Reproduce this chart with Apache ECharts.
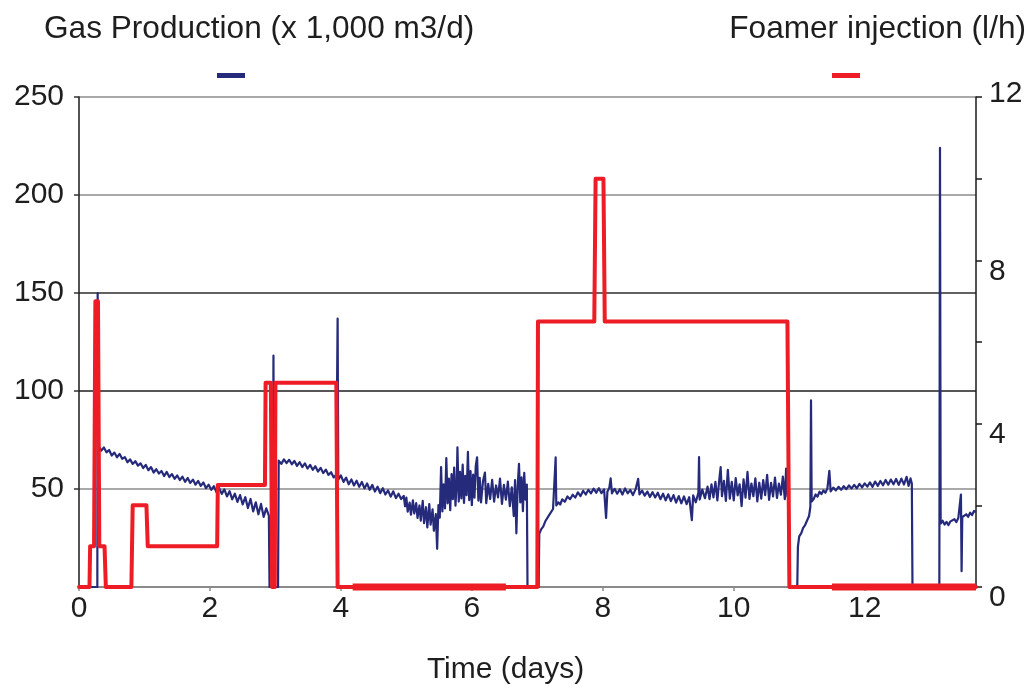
<!DOCTYPE html>
<html>
<head>
<meta charset="utf-8">
<title>Gas production and foamer injection</title>
<script src="https://cdn.jsdelivr.net/npm/echarts@6/dist/echarts.min.js"></script>
<style>
  html, body { margin: 0; padding: 0; background: #ffffff; }
  #chart { width: 1034px; height: 693px; }
</style>
</head>
<body>
<div id="chart"></div>
<script>
// ---- Axis ranges and tick labels ----
const timeRange = [0, 13.7];          // days
const gasRange = [0, 250];            // x 1,000 m3/d
const foamerRange = [0, 12];          // l/h
const timeTickStep = 2;
const gasTickStep = 50;
const foamerTickStep = 2;
const foamerLabelled = [0, 4, 8, 12];

const gasName = 'Gas Production (x 1,000 m3/d)';
const foamerName = 'Foamer injection (l/h)';
const timeName = 'Time (days)';

// ---- Gas production, [day, rate] ----
const gasStart = [
  [0, 0], [0.28, 0], [0.285, 150], [0.29, 72.5]
];
const gasDecline = [
  [0.30, 71.8], [0.34, 69.6], [0.38, 71.2], [0.42, 68.7], [0.46, 69.9], [0.50, 67.1],
  [0.54, 68.6], [0.58, 66.2], [0.62, 67.9], [0.66, 65.4], [0.70, 66.3], [0.74, 63.6],
  [0.78, 65.1], [0.82, 62.8], [0.86, 64.2], [0.90, 61.9], [0.94, 63.1], [0.98, 60.7],
  [1.02, 62.3], [1.06, 59.6], [1.10, 61.2], [1.14, 58.4], [1.18, 60.1], [1.22, 57.9],
  [1.26, 59.2], [1.30, 56.6], [1.34, 58.7], [1.38, 56.1], [1.42, 57.6], [1.46, 55.2],
  [1.50, 56.9], [1.54, 54.6], [1.58, 56.3], [1.62, 53.7], [1.66, 55.6], [1.70, 53.1],
  [1.74, 54.8], [1.78, 52.2], [1.82, 54.1], [1.86, 51.6], [1.90, 53.3], [1.94, 50.4],
  [1.98, 52.2], [2.02, 49.6], [2.06, 51.4], [2.10, 48.3], [2.14, 50.6], [2.18, 47.5],
  [2.22, 49.8], [2.26, 46.2], [2.30, 48.9], [2.34, 44.7], [2.38, 47.6], [2.42, 43.4],
  [2.46, 46.9], [2.50, 42.1], [2.54, 45.8], [2.58, 40.3], [2.62, 44.9], [2.66, 38.6],
  [2.70, 43.2], [2.74, 37.1], [2.78, 42.4], [2.82, 35.8], [2.86, 40.1], [2.90, 36.4]
];
const gasRestart = [
  [2.91, 0], [2.96, 0], [2.97, 118], [2.98, 0], [3.04, 0]
];
const gasSecondRun = [
  [3.05, 64.5], [3.09, 62.8], [3.13, 65.1], [3.17, 63.2], [3.21, 64.9], [3.25, 62.6],
  [3.29, 64.3], [3.33, 61.8], [3.37, 63.7], [3.41, 61.2], [3.45, 63.1], [3.49, 60.4],
  [3.53, 62.3], [3.57, 59.8], [3.61, 61.6], [3.65, 58.9], [3.69, 60.8], [3.73, 58.1],
  [3.77, 59.9], [3.81, 57.2], [3.85, 58.6], [3.89, 55.9], [3.93, 57.4], [3.95, 137],
  [3.96, 54.8], [4.00, 56.9], [4.04, 53.6], [4.08, 55.8], [4.12, 52.4], [4.16, 54.9],
  [4.20, 51.8], [4.24, 54.2], [4.28, 51.1], [4.32, 53.6], [4.36, 50.3], [4.40, 52.8],
  [4.44, 49.6], [4.48, 52.1], [4.52, 48.7], [4.56, 51.2], [4.60, 47.9], [4.64, 50.4],
  [4.68, 47.2], [4.72, 49.3], [4.76, 46.1], [4.80, 48.8], [4.84, 45.3], [4.88, 47.6],
  [4.92, 44.9], [4.96, 46.5]
];
const gasUnsettled = [
  [4.98, 41.2], [5.00, 45.6], [5.02, 38.4], [5.05, 43.1], [5.07, 36.9], [5.10, 44.2],
  [5.12, 37.5], [5.15, 42.8], [5.17, 35.2], [5.20, 41.6], [5.22, 33.8], [5.25, 43.9],
  [5.27, 32.6], [5.30, 40.7], [5.32, 30.4], [5.35, 42.3], [5.37, 31.8], [5.40, 39.6],
  [5.42, 28.7], [5.45, 37.2], [5.47, 19.5], [5.49, 41.8], [5.51, 35.4], [5.53, 61.2],
  [5.55, 38.6], [5.57, 52.4], [5.59, 40.1], [5.61, 65.8], [5.63, 42.7], [5.65, 55.3],
  [5.67, 39.2], [5.69, 57.6], [5.71, 44.8], [5.73, 60.9], [5.75, 41.5], [5.77, 54.2],
  [5.78, 71.3], [5.80, 43.6], [5.82, 58.8], [5.84, 45.2], [5.86, 62.4], [5.88, 42.9],
  [5.90, 56.7], [5.92, 46.8], [5.94, 68.9], [5.96, 44.3], [5.98, 59.1], [6.00, 41.7],
  [6.02, 57.3], [6.04, 45.6], [6.06, 61.8], [6.08, 66.2], [6.10, 44.1], [6.12, 55.7],
  [6.14, 43.2], [6.17, 53.9], [6.20, 58.4], [6.22, 42.8], [6.25, 52.6], [6.28, 44.9],
  [6.31, 54.7], [6.34, 43.5], [6.37, 51.8], [6.40, 45.7], [6.43, 55.3], [6.46, 42.4],
  [6.49, 52.1], [6.52, 44.6], [6.55, 53.8], [6.58, 41.3], [6.61, 50.9], [6.64, 36.2],
  [6.66, 54.6], [6.68, 27.4], [6.70, 51.3], [6.72, 62.8], [6.74, 43.1], [6.76, 55.9],
  [6.78, 38.7], [6.80, 58.2], [6.82, 44.6], [6.84, 52.3], [6.85, 0], [7.02, 0]
];
const gasRecovery = [
  [7.03, 27.2], [7.06, 29.5], [7.09, 30.8], [7.12, 33.4], [7.15, 34.1], [7.18, 36.7],
  [7.21, 37.2], [7.24, 39.8], [7.27, 40.3], [7.28, 66.1], [7.29, 41.6], [7.32, 43.2],
  [7.35, 42.1], [7.38, 44.7], [7.42, 43.5], [7.46, 46.2], [7.50, 44.8], [7.54, 47.1],
  [7.58, 45.6], [7.62, 48.3], [7.66, 46.4], [7.70, 49.1], [7.74, 47.2], [7.78, 49.6],
  [7.82, 47.8], [7.86, 50.2], [7.90, 48.1], [7.94, 50.4], [7.98, 47.9], [8.02, 49.8],
  [8.05, 35.2], [8.07, 48.6], [8.10, 50.7], [8.12, 55.4], [8.14, 47.8], [8.18, 50.1],
  [8.22, 47.6], [8.26, 49.9], [8.30, 47.2], [8.34, 50.3], [8.38, 47.8], [8.42, 49.5],
  [8.46, 46.9], [8.50, 49.8], [8.54, 55.2], [8.56, 47.3], [8.60, 49.2], [8.64, 46.6],
  [8.68, 48.7], [8.72, 45.9], [8.76, 48.4], [8.80, 45.7], [8.84, 48.1], [8.88, 44.8],
  [8.92, 47.6], [8.96, 44.2], [9.00, 47.3], [9.04, 43.8], [9.08, 46.9], [9.12, 43.1],
  [9.16, 46.4], [9.20, 42.7], [9.24, 46.2], [9.28, 42.3], [9.32, 45.8], [9.36, 34.1],
  [9.38, 46.7], [9.42, 43.2], [9.46, 48.1], [9.47, 66.3], [9.48, 44.6], [9.52, 49.7],
  [9.56, 45.3], [9.60, 51.2], [9.63, 44.8], [9.66, 52.4], [9.69, 45.7], [9.72, 53.6],
  [9.75, 44.2], [9.78, 55.1], [9.80, 61.2], [9.82, 46.3], [9.85, 54.2], [9.88, 43.9],
  [9.91, 59.8], [9.94, 45.1], [9.97, 53.7], [10.00, 44.2], [10.03, 55.6], [10.06, 46.8],
  [10.09, 52.4], [10.12, 41.3], [10.15, 54.9], [10.18, 45.6], [10.21, 58.7], [10.24, 44.9],
  [10.27, 52.8], [10.30, 46.3], [10.33, 55.4], [10.36, 43.7], [10.39, 53.2], [10.42, 45.1],
  [10.45, 54.6], [10.48, 46.9], [10.51, 57.2], [10.54, 44.4], [10.57, 53.1], [10.60, 46.2],
  [10.63, 55.8], [10.66, 45.4], [10.69, 52.7], [10.72, 47.1], [10.75, 56.3], [10.78, 44.8],
  [10.80, 60.4], [10.82, 46.2], [10.84, 54.1], [10.85, 0], [10.97, 0]
];
const gasAfterShutIn = [
  [10.98, 20.5], [11.00, 25.8], [11.03, 27.4], [11.06, 30.2], [11.09, 31.6], [11.12, 33.9],
  [11.15, 36.2], [11.17, 40.8], [11.18, 95.2], [11.19, 43.6], [11.22, 44.9], [11.25, 47.2],
  [11.28, 46.1], [11.31, 48.6], [11.34, 47.4], [11.37, 49.3], [11.40, 48.1], [11.43, 50.2],
  [11.46, 59.3], [11.48, 48.8], [11.52, 50.7], [11.56, 49.3], [11.60, 51.1], [11.64, 49.6],
  [11.68, 51.4], [11.72, 49.9], [11.76, 51.8], [11.80, 50.3], [11.84, 52.1], [11.88, 50.4],
  [11.92, 52.6], [11.96, 50.8], [12.00, 52.9], [12.04, 51.2], [12.08, 53.4], [12.12, 51.1],
  [12.16, 53.8], [12.20, 51.6], [12.24, 54.1], [12.28, 51.9], [12.32, 54.6], [12.36, 52.2],
  [12.40, 54.8], [12.44, 52.4], [12.48, 55.1], [12.52, 52.1], [12.56, 55.3], [12.60, 52.3],
  [12.64, 56.2], [12.67, 51.6], [12.70, 55.4], [12.72, 52.8], [12.73, 0], [13.14, 0]
];
const gasFinal = [
  [13.15, 224], [13.16, 32.4], [13.19, 33.8], [13.22, 31.9], [13.25, 33.2], [13.28, 31.6],
  [13.31, 33.5], [13.34, 32.8], [13.37, 34.6], [13.40, 33.1], [13.43, 35.2], [13.46, 34.3],
  [13.47, 47.2], [13.48, 8.1], [13.49, 35.6], [13.52, 34.9], [13.55, 37.1], [13.58, 35.8],
  [13.61, 37.9], [13.64, 36.7], [13.67, 38.8], [13.70, 38.2]
];

// ---- Foamer injection rate, step corners [day, l/h] ----
const foamerSteps = [
  [0, 0], [0.16, 0], [0.17, 1], [0.23, 1], [0.25, 7], [0.29, 7], [0.31, 1], [0.39, 1],
  [0.41, 0], [0.80, 0], [0.82, 2], [1.03, 2], [1.05, 1], [2.11, 1], [2.12, 2.5],
  [2.84, 2.5], [2.85, 5], [2.93, 5], [2.95, 0], [2.99, 0], [3.00, 5], [3.93, 5],
  [3.95, 0], [7.00, 0], [7.01, 6.5], [7.87, 6.5], [7.89, 10], [8.01, 10], [8.03, 6.5],
  [10.82, 6.5], [10.85, 0], [13.7, 0]
];
// Windows where the pump sat idle at zero for long stretches
const foamerIdleWindows = [[4.18, 6.52], [11.5, 13.7]];

// ---- Build series data ----
const gasData = [].concat(gasStart, gasDecline, gasRestart, gasSecondRun,
  gasUnsettled, gasRecovery, gasAfterShutIn, gasFinal);
const idleData = [];
foamerIdleWindows.forEach(function (w, i) {
  if (i > 0) idleData.push([w[0], '-']);
  idleData.push([w[0], 0], [w[1], 0]);
});

const FONT = 'Liberation Sans, Arial, sans-serif';
const TEXT = '#1e1e1e';
const BLUE = '#262a7a';
const RED = '#ee1c24';

const chart = echarts.init(document.getElementById('chart'), null, { renderer: 'canvas' });

chart.setOption({
  animation: false,
  backgroundColor: '#ffffff',
  textStyle: { fontFamily: FONT },
  title: [
    {
      text: gasName, left: 44, top: 13, padding: 0,
      textStyle: { fontFamily: FONT, fontSize: 31.6, fontWeight: 'normal', color: TEXT }
    },
    {
      text: foamerName, right: 8, top: 13, padding: 0,
      textStyle: { fontFamily: FONT, fontSize: 31.6, fontWeight: 'normal', color: TEXT }
    }
  ],
  legend: [
    {
      data: [gasName], left: 217, top: 73, padding: 0,
      icon: 'rect', itemWidth: 28, itemHeight: 5, selectedMode: false,
      formatter: function () { return ''; }
    },
    {
      data: [foamerName], left: 832, top: 73, padding: 0,
      icon: 'rect', itemWidth: 28, itemHeight: 5, selectedMode: false,
      formatter: function () { return ''; }
    }
  ],
  grid: { left: 79, right: 58, top: 97, bottom: 106, containLabel: false },
  xAxis: {
    type: 'value',
    min: timeRange[0], max: timeRange[1], interval: timeTickStep,
    name: timeName, nameLocation: 'middle', nameGap: 68,
    nameTextStyle: { fontFamily: FONT, fontSize: 30, color: TEXT, padding: [0, 44, 0, 0] },
    axisLine: { show: true, lineStyle: { color: '#8a8a8a', width: 2 } },
    axisTick: { show: true, length: 4, lineStyle: { color: '#8a8a8a', width: 1.5 } },
    axisLabel: { fontFamily: FONT, fontSize: 30, color: TEXT, margin: 7, showMaxLabel: false },
    splitLine: { show: false }
  },
  yAxis: [
    {
      type: 'value', position: 'left',
      min: gasRange[0], max: gasRange[1], interval: gasTickStep,
      axisLine: { show: true, lineStyle: { color: '#1a1a1a', width: 1.5 } },
      axisTick: { show: true, length: 5, lineStyle: { color: '#333', width: 1.5 } },
      axisLabel: { fontFamily: FONT, fontSize: 30, color: TEXT, margin: 15, showMinLabel: false },
      splitLine: {
        show: true,
        lineStyle: { color: ['#8c8c8c', '#8c8c8c', '#1e1e1e', '#2e2e2e', '#8c8c8c', '#8c8c8c'], width: 1.6 }
      }
    },
    {
      type: 'value', position: 'right',
      min: foamerRange[0], max: foamerRange[1], interval: foamerTickStep,
      axisLine: { show: true, lineStyle: { color: '#1a1a1a', width: 1.5 } },
      axisTick: { show: true, length: 6, lineStyle: { color: '#1a1a1a', width: 1.5 } },
      axisLabel: {
        fontFamily: FONT, fontSize: 29, color: TEXT, margin: 13,
        formatter: function (v) {
          if (foamerLabelled.indexOf(v) < 0) return '';
          return v === foamerRange[1] ? '{top|' + v + '}' : '{low|' + v + '}';
        },
        rich: {
          top: { fontFamily: FONT, fontSize: 30, color: TEXT, padding: [0, 0, 6, 0] },
          low: { fontFamily: FONT, fontSize: 30, color: TEXT, padding: [22, 0, 0, 0] }
        }
      },
      splitLine: { show: false }
    }
  ],
  series: [
    {
      name: gasName, type: 'line', yAxisIndex: 0, data: gasData,
      color: BLUE, showSymbol: false, symbol: 'none', sampling: null,
      lineStyle: { color: BLUE, width: 2.2, join: 'round' }, z: 2
    },
    {
      name: foamerName, type: 'line', yAxisIndex: 1, data: foamerSteps,
      color: RED, showSymbol: false, symbol: 'none', clip: false,
      lineStyle: { color: RED, width: 4, join: 'round', cap: 'round' }, z: 3
    },
    {
      name: 'idle', type: 'line', yAxisIndex: 1, data: idleData,
      color: RED, showSymbol: false, symbol: 'none', clip: false,
      lineStyle: { color: RED, width: 7 }, z: 3
    }
  ]
});
</script>
</body>
</html>
